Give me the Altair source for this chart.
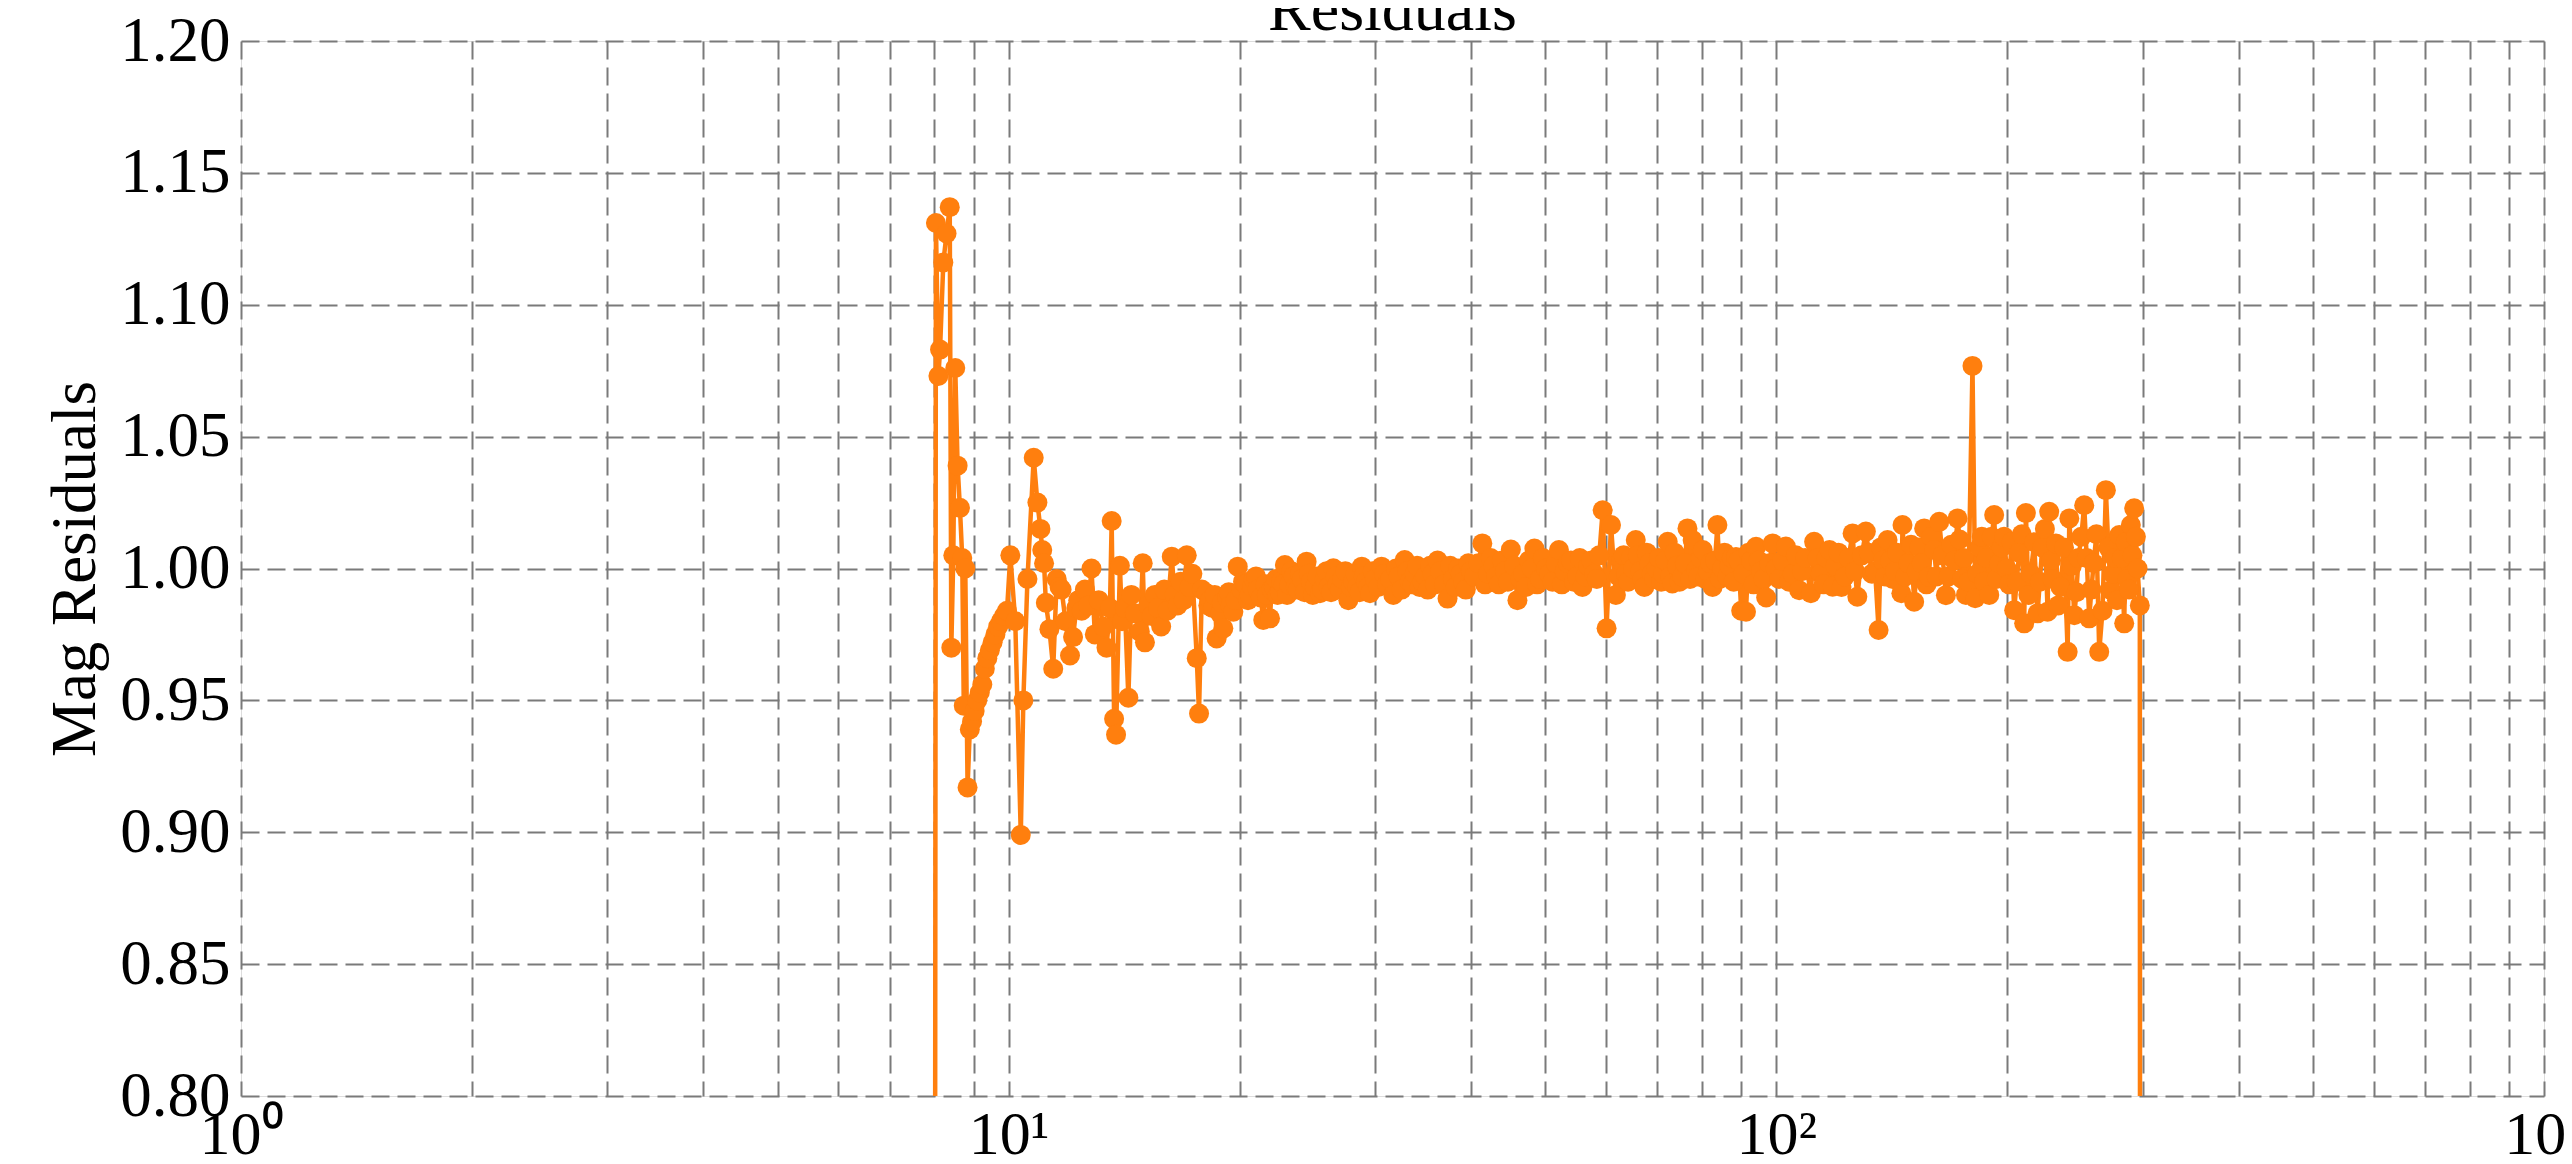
import altair as alt
import pandas as pd

# Frequency (x) and magnitude residual (y) values
x_vals = [
    8.00, 8.04, 8.10, 8.14, 8.22, 8.30, 8.38, 8.42, 8.47, 8.52,
    8.58, 8.64, 8.70, 8.74, 8.78, 8.84, 8.90, 8.96, 9.03, 9.10,
    9.17, 9.24, 9.31, 9.38, 9.45, 9.53, 9.61, 9.69, 9.77, 9.86,
    9.95, 10.05, 10.20, 10.37, 10.45, 10.58, 10.78, 10.90, 11.00, 11.06,
    11.12, 11.18, 11.30, 11.43, 11.55, 11.65, 11.72, 11.86, 12.02, 12.13,
    12.25, 12.32, 12.45, 12.57, 12.70, 12.82, 12.95, 13.10, 13.28, 13.41,
    13.55, 13.62, 13.72, 13.80, 13.96, 14.05, 14.17, 14.32, 14.45, 14.60,
    14.82, 14.95, 15.05, 15.20, 15.35, 15.50, 15.65, 15.80, 15.95, 16.10,
    16.31, 16.45, 16.60, 16.75, 16.90, 17.06, 17.20, 17.35, 17.58, 17.70,
    17.85, 18.11, 18.30, 18.45, 18.66, 18.85, 19.04, 19.25, 19.45, 19.62,
    19.88, 20.10, 20.35, 20.60, 20.85, 21.10, 21.46, 21.70, 21.90, 22.15,
    22.40, 22.65, 22.90, 23.20, 23.50, 23.80, 24.10, 24.44, 24.75, 25.05,
    25.44, 25.80, 26.10, 26.48, 26.80, 27.20, 27.70, 28.10, 28.45, 28.84,
    29.20, 29.56, 30.00, 30.60, 31.10, 31.70, 32.20, 32.80, 33.30, 33.80,
    34.30, 34.90, 35.40, 35.90, 36.50, 37.30, 37.90, 38.50, 39.10, 39.70,
    40.40, 41.40, 42.10, 42.80, 43.50, 44.30, 45.10, 46.00, 46.80, 47.60,
    48.40, 49.20, 50.10, 51.10, 52.10, 53.00, 54.00, 55.00, 55.90, 56.90,
    57.90, 58.80, 59.40, 60.10, 60.90, 61.80, 62.80, 63.70, 64.60, 65.60,
    66.50, 67.30, 68.30, 69.30, 70.30, 71.20, 72.20, 73.20, 74.20, 75.40,
    76.60, 77.80, 78.60, 79.70, 80.80, 82.00, 82.60, 83.80, 85.00, 86.30,
    87.50, 88.60, 90.00, 91.30, 92.70, 94.10, 95.50, 97.00, 98.90, 100.8,
    102.9, 105.0, 107.1, 109.0, 110.9, 112.0, 114.2, 116.2, 118.4, 120.5,
    122.8, 125.7, 127.5, 129.2, 130.8, 133.2, 135.9, 137.7, 139.6, 141.8,
    143.7, 145.5, 146.0, 148.5, 151.2, 153.5, 155.8, 158.0, 160.5, 163.0,
    166.3, 169.0, 172.2, 174.5, 176.6, 180.1, 181.6, 184.0, 186.5, 189.4,
    192.2, 195.0, 198.0, 201.0, 204.1, 207.2, 210.3, 211.4, 214.5, 218.9,
    222.0, 225.6, 226.7, 229.0, 231.3, 234.5, 239.6, 240.8, 244.4, 247.5,
    251.8, 255.6, 259.0, 263.4, 268.7, 272.8, 276.0, 279.7, 283.9, 286.5,
    289.6, 292.5, 295.5, 297.5, 298.0,
]
y_vals = [
    0.400, 1.131, 1.073, 1.083, 1.116, 1.127, 1.137, 0.970, 1.005, 1.076,
    1.039, 1.023, 1.004, 0.948, 1.000, 0.917, 0.939, 0.942, 0.946, 0.950,
    0.953, 0.956, 0.962, 0.966, 0.969, 0.972, 0.975, 0.978, 0.980, 0.982,
    0.984, 1.005, 0.980, 0.899, 0.950, 0.996, 1.042, 1.025, 1.015, 1.007,
    1.002, 0.987, 0.977, 0.962, 0.996, 0.993, 0.992, 0.980, 0.967, 0.974,
    0.985, 0.988, 0.984, 0.992, 0.986, 1.000, 0.975, 0.988, 0.978, 0.970,
    0.985, 1.018, 0.943, 0.937, 1.001, 0.980, 0.985, 0.951, 0.990, 0.983,
    0.976, 1.002, 0.972, 0.986, 0.982, 0.990, 0.985, 0.978, 0.992, 0.984,
    1.0045, 0.990, 0.986, 0.995, 0.988, 1.005, 0.993, 0.998, 0.966, 0.945,
    0.992, 0.9906, 0.988, 0.985, 0.9735, 0.983, 0.9773, 0.989, 0.986, 0.9836,
    1.0007, 0.992, 0.994, 0.990, 0.996, 0.992, 0.9805, 0.990, 0.9811, 0.993,
    0.990, 0.995, 1.0013, 0.994, 0.997, 0.992, 0.996, 1.0026, 0.995, 0.993,
    0.9906, 0.996, 0.993, 1.0001, 0.994, 0.996, 0.988, 0.995, 0.993, 1.0007,
    0.995, 0.9906, 0.996, 1.0007, 0.994, 0.990, 0.997, 1.0032, 0.995, 0.998,
    0.993, 0.997, 1.001, 0.994, 0.999, 0.9886, 0.996, 1.000, 0.995, 1.002,
    0.997, 1.0095, 0.998, 1.001, 0.994, 0.999, 1.0072, 0.988, 0.998, 1.003,
    1.0076, 0.996, 1.000, 0.995, 1.007, 0.999, 1.003, 0.997, 0.993, 1.001,
    0.998, 1.005, 1.0221, 0.9773, 1.0165, 0.990, 1.003, 0.998, 1.004, 1.0108,
    0.999, 0.993, 1.002, 0.996, 1.004, 0.998, 1.0101, 0.9943, 1.001, 0.997,
    1.0152, 1.0108, 0.9994, 1.004, 0.996, 1.002, 0.993, 1.0165, 1.000, 0.997,
    1.004, 1.0044, 0.984, 0.9836, 1.003, 1.0082, 0.999, 0.989, 1.0095, 0.996,
    1.0083, 0.998, 0.9918, 1.004, 0.9906, 1.0101, 0.998, 1.004, 0.9931, 1.006,
    0.997, 1.0133, 0.9893, 1.005, 1.014, 0.998, 0.9767, 1.003, 1.0108, 0.996,
    1.006, 0.9906, 1.0165, 1.002, 0.9874, 1.008, 1.0152, 0.997, 1.007, 1.0177,
    0.9899, 1.009, 1.019, 0.996, 0.990, 1.0768, 0.9887, 1.008, 0.995, 0.990,
    1.0203, 1.002, 1.012, 0.994, 0.9842, 1.006, 0.9792, 1.021, 0.998, 0.983,
    1.008, 0.9836, 1.0215, 0.996, 1.0095, 0.993, 0.9684, 1.019, 0.9823, 1.004,
    1.024, 0.9811, 1.002, 0.9684, 1.0297, 0.9918, 1.004, 1.0127, 0.9792, 0.996,
    1.0165, 1.0228, 1.000, 0.986, 0.400,
]

# Additional points filling the dense band
x_extra = [
    18.2, 18.55, 18.95, 19.35, 19.75, 20.2, 20.5, 20.75, 21.0, 21.3,
    21.6, 22.0, 22.3, 22.55, 22.8, 23.05, 23.35, 23.65, 23.95, 24.3,
    24.6, 24.9, 25.25, 25.6, 25.95, 26.3, 26.65, 27.0, 27.45, 27.9,
    28.3, 28.65, 29.0, 29.4, 29.8, 30.3, 30.85, 31.4, 31.95, 32.5,
    33.05, 33.55, 34.05, 34.6, 35.15, 35.65, 36.2, 36.9, 37.6, 38.2,
    38.8, 39.4, 40.0, 40.9, 41.75, 42.45, 43.15, 43.9, 44.7, 45.55,
    46.4, 47.2, 48.0, 48.8, 49.65, 50.6, 51.6, 52.55, 53.5, 54.5,
    55.45, 56.4, 57.4, 58.35, 62.3, 63.25, 64.1, 65.1, 66.0, 66.9,
    67.8, 68.8, 69.8, 70.8, 71.7, 72.7, 73.7, 74.8, 76.0, 77.2,
    79.1, 80.2, 81.4, 83.2, 84.4, 85.6, 86.9, 88.0, 89.3, 90.6,
    92.0, 93.4, 94.8, 96.2, 97.9, 99.8, 101.8, 103.9, 106.0, 108.0,
    113.1, 115.2, 117.3, 119.4, 121.6, 124.2, 126.6, 132.0, 134.5, 136.8,
    138.6, 140.7, 142.7, 147.2, 149.8, 152.3, 154.6, 156.9, 159.2, 161.7,
    164.6, 167.6, 170.6, 173.3, 175.5, 178.0, 182.8, 185.2, 187.9, 190.8,
    193.6, 196.5, 199.5, 202.5, 205.6, 208.8, 213.0, 216.7, 220.4, 223.8,
    228.0, 232.9, 237.0, 242.6, 246.0, 249.6, 253.7, 257.3, 261.2, 266.0,
    270.7, 274.4, 277.8, 281.8, 285.2, 288.0, 291.0, 294.0,
]
y_extra = [
    0.986, 0.990, 0.987, 0.991, 0.988, 0.995, 0.988, 0.993, 0.997, 0.989,
    0.994, 0.992, 0.996, 0.991, 0.994, 0.990, 0.999, 0.993, 0.998, 0.991,
    0.998, 0.990, 0.997, 0.992, 0.999, 0.991, 0.997, 0.992, 0.999, 0.993,
    0.998, 0.991, 0.997, 0.993, 0.999, 0.993, 0.998, 0.996, 1.000, 0.992,
    0.999, 0.994, 1.001, 0.995, 0.992, 0.998, 1.003, 0.994, 1.001, 0.993,
    0.998, 0.992, 0.999, 1.002, 0.994, 1.004, 0.997, 1.003, 0.995, 1.001,
    0.996, 0.993, 1.000, 0.994, 1.004, 0.998, 1.002, 0.994, 1.002, 0.995,
    1.004, 0.997, 1.003, 0.996, 0.997, 1.005, 0.995, 1.000, 1.005, 0.996,
    1.006, 0.998, 1.000, 0.995, 1.003, 0.997, 1.006, 0.995, 1.002, 0.996,
    0.997, 1.007, 0.999, 1.003, 0.996, 1.006, 1.001, 0.995, 1.003, 0.998,
    1.006, 0.994, 1.003, 0.996, 1.002, 1.000, 1.003, 0.995, 1.005, 0.999,
    1.004, 0.994, 1.007, 1.001, 0.993, 1.004, 0.999, 1.006, 0.999, 1.008,
    0.997, 1.003, 0.999, 0.997, 1.009, 0.999, 1.002, 0.994, 1.012, 0.997,
    1.005, 0.997, 1.003, 1.011, 1.004, 0.995, 0.998, 1.012, 1.004, 1.012,
    0.996, 1.008, 1.000, 1.010, 0.995, 1.013, 0.990, 1.010, 0.995, 1.015,
    1.003, 0.986, 1.008, 1.001, 0.991, 1.012, 1.004, 0.992, 1.013, 0.984,
    1.008, 0.998, 0.988, 1.004, 1.010, 0.992, 1.005, 1.012,
]

x_grid = [1, 2, 3, 4, 5, 6, 7, 8, 9, 10, 20, 30, 40, 50, 60, 70, 80, 90,
          100, 200, 300, 400, 500, 600, 700, 800, 900, 1000]
y_ticks = [0.80, 0.85, 0.90, 0.95, 1.00, 1.05, 1.10, 1.15, 1.20]
title_text = ["Residuals"]

df = pd.DataFrame({"f": x_vals + x_extra, "r": y_vals + y_extra})
df = df.sort_values("f").reset_index(drop=True)
df["i"] = range(len(df))

FONT = "Liberation Serif"
ORANGE = "#ff7f0e"
PLOT_W, PLOT_H = 2303, 1055

x_enc = alt.X(
    "f:Q",
    scale=alt.Scale(type="log", domain=[1, 1000], nice=False),
    axis=alt.Axis(
        values=x_grid,
        labelExpr="datum.value == 1 ? '10⁰' : datum.value == 10 ? '10¹' : datum.value == 100 ? '10²' : datum.value == 1000 ? '10³' : ''",
        labelFont=FONT, labelFontSize=62, labelColor="black",
        labelPadding=8, labelOverlap=False, labelFlush=False,
        ticks=False, tickSize=0, domain=False,
        grid=True, gridColor="#7a7a7a", gridWidth=2, gridDash=[18, 8],
        title=None,
    ),
)
y_enc = alt.Y(
    "r:Q",
    scale=alt.Scale(domain=[0.8, 1.2], nice=False, zero=False),
    axis=alt.Axis(
        values=y_ticks, format=".2f",
        labelFont=FONT, labelFontSize=63, labelColor="black",
        labelPadding=11, labelOverlap=False, labelFlush=False,
        ticks=False, tickSize=0, domain=False,
        grid=True, gridColor="#7a7a7a", gridWidth=2, gridDash=[18, 8],
        title="Mag Residuals", titleFont=FONT, titleFontSize=63,
        titleFontWeight="normal", titleColor="black",
        titleAngle=270, titleAlign="center", titleBaseline="alphabetic",
        titleX=-147, titleY=PLOT_H / 2,
    ),
)

base = alt.Chart(df).encode(x=x_enc, y=y_enc, order=alt.Order("i:Q"))
line = base.mark_line(color=ORANGE, strokeWidth=4.5, clip=True)
pts = base.mark_circle(color=ORANGE, size=400, opacity=1, clip=True)

title = (
    alt.Chart(pd.DataFrame({"t": title_text}))
    .mark_text(font=FONT, fontSize=64, color="black", align="center",
               baseline="alphabetic")
    .encode(text="t:N", x=alt.value(PLOT_W / 2), y=alt.value(-11))
)

chart = (
    (line + pts + title)
    .properties(
        width=PLOT_W,
        height=PLOT_H,
        autosize=alt.AutoSizeParams(type="none"),
        padding={"left": 233, "top": 33, "right": 20, "bottom": 60},
    )
    .configure_view(stroke="#bfbfbf", strokeWidth=2.5)
    .configure(background="white")
)

chart.save("out.html", embed_options={"renderer": "svg", "actions": False})
